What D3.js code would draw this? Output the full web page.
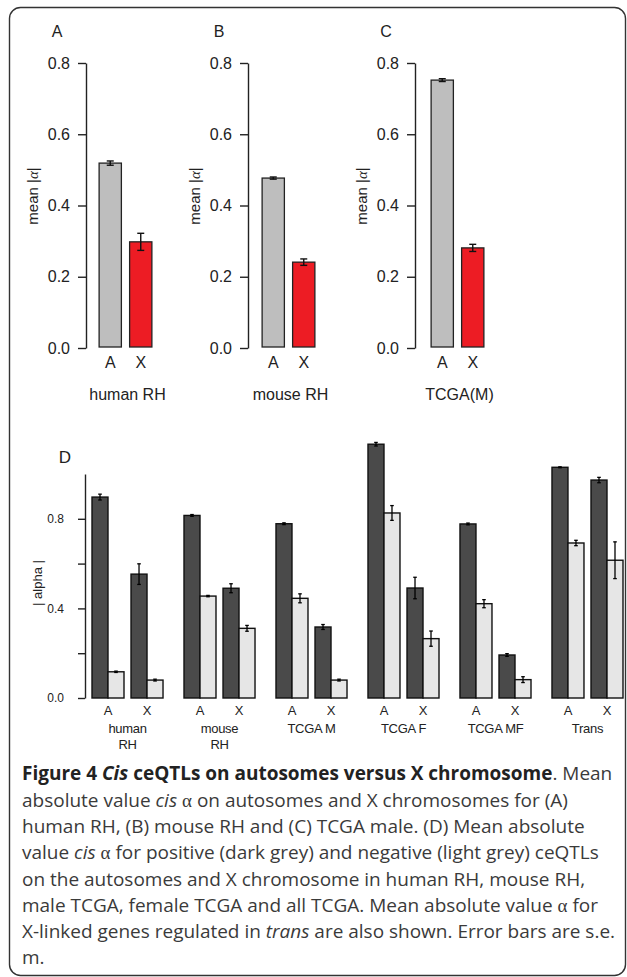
<!DOCTYPE html>
<html>
<head>
<meta charset="utf-8">
<script src="https://cdn.jsdelivr.net/npm/d3@7"></script>
<style>
  body { margin: 0; background: #fff; }
  svg { display: block; }
</style>
</head>
<body>
<script>
  // panels A-C: mean |alpha| on autosomes (A) and X chromosome (X)
  var panelLetters = ['A', 'B', 'C'];
  var panelNames = ['human RH', 'mouse RH', 'TCGA(M)'];
  var chromCats = ['A', 'X'];
  var meanAuto = [0.519, 0.477, 0.752];
  var seAuto = [0.006, 0.003, 0.004];
  var meanX = [0.298, 0.241, 0.281];
  var seX = [0.024, 0.009, 0.010];
  var topTicks = [0, 0.2, 0.4, 0.6, 0.8];

  // panel D: positive (dark) and negative (light) ceQTLs
  var groupNames = ['human\nRH', 'mouse\nRH', 'TCGA M', 'TCGA F', 'TCGA MF', 'Trans'];
  var posAuto = [0.897, 0.815, 0.778, 1.133, 0.777, 1.030];
  var posAutoSe = [0.013, 0.004, 0.004, 0.008, 0.004, 0.002];
  var negAuto = [0.117, 0.455, 0.445, 0.826, 0.421, 0.692];
  var negAutoSe = [0.003, 0.003, 0.020, 0.033, 0.018, 0.012];
  var posX = [0.553, 0.490, 0.317, 0.491, 0.192, 0.973];
  var posXSe = [0.046, 0.020, 0.011, 0.048, 0.006, 0.012];
  var negX = [0.080, 0.311, 0.080, 0.265, 0.082, 0.615];
  var negXSe = [0.004, 0.013, 0.004, 0.034, 0.013, 0.082];
  var dTicks = [0, 0.2, 0.4, 0.6, 0.8];
  var dTickLabels = [0, 0.4, 0.8];

  var FONT = '"Liberation Sans", Arial, sans-serif';
  var INK = '#222';

  var svg = d3.select('body').append('svg')
    .attr('width', 627)
    .attr('height', 977);

  svg.append('rect')
    .attr('x', 9.5).attr('y', 7.5)
    .attr('width', 616).attr('height', 968)
    .attr('rx', 11).attr('ry', 11)
    .attr('fill', 'none')
    .attr('stroke', '#333')
    .attr('stroke-width', 1.4);

  // ---------- panels A, B, C ----------
  var axisXs = [86, 248, 415];
  var barStarts = [95, 258, 427];
  var yTop = d3.scaleLinear().domain([0, 0.8]).range([348, 63]);

  panelLetters.forEach(function(letter, i) {
    var g = svg.append('g').attr('class', 'panel');
    var ax = axisXs[i];

    var yAxis = d3.axisLeft(yTop)
      .tickValues(topTicks)
      .tickFormat(d3.format('.1f'))
      .tickSize(8)
      .tickSizeOuter(0)
      .tickPadding(8);
    var axG = g.append('g').attr('transform', 'translate(' + ax + ',0)').call(yAxis);
    axG.selectAll('path, line').attr('stroke', INK).attr('stroke-width', 1.4);
    axG.selectAll('text').attr('font-family', FONT).attr('font-size', 16).attr('fill', INK);

    var x = d3.scaleBand().domain(chromCats)
      .range([barStarts[i], barStarts[i] + 61])
      .paddingInner(0.27).paddingOuter(0.135);

    var rows = [
      {cat: 'A', v: meanAuto[i], se: seAuto[i], fill: '#bebebe'},
      {cat: 'X', v: meanX[i], se: seX[i], fill: '#ed1c24'}
    ];

    g.selectAll('.bar').data(rows).enter().append('rect')
      .attr('class', 'bar')
      .attr('x', function(d) { return x(d.cat); })
      .attr('y', function(d) { return yTop(d.v); })
      .attr('width', x.bandwidth())
      .attr('height', function(d) { return yTop(0) - 1 - yTop(d.v); })
      .attr('fill', function(d) { return d.fill; })
      .attr('stroke', INK)
      .attr('stroke-width', 1.3);

    var err = g.selectAll('.err').data(rows).enter().append('g').attr('class', 'err')
      .attr('transform', function(d) { return 'translate(' + (x(d.cat) + x.bandwidth() / 2) + ',0)'; });
    err.append('line')
      .attr('y1', function(d) { return yTop(d.v - d.se); })
      .attr('y2', function(d) { return yTop(d.v + d.se); });
    err.append('line').attr('x1', -3.5).attr('x2', 3.5)
      .attr('y1', function(d) { return yTop(d.v - d.se); })
      .attr('y2', function(d) { return yTop(d.v - d.se); });
    err.append('line').attr('x1', -3.5).attr('x2', 3.5)
      .attr('y1', function(d) { return yTop(d.v + d.se); })
      .attr('y2', function(d) { return yTop(d.v + d.se); });
    err.selectAll('line').attr('stroke', '#111').attr('stroke-width', 1.4);

    g.selectAll('.cat').data(chromCats).enter().append('text')
      .attr('x', function(d) { return x(d) + x.bandwidth() / 2; })
      .attr('y', 368)
      .attr('text-anchor', 'middle')
      .attr('font-family', FONT).attr('font-size', 16).attr('fill', INK)
      .text(function(d) { return d; });

    g.append('text')
      .attr('x', x.range()[0] + (x.range()[1] - x.range()[0]) / 2 + 2)
      .attr('y', 400)
      .attr('text-anchor', 'middle')
      .attr('font-family', FONT).attr('font-size', 16).attr('fill', INK)
      .text(panelNames[i]);

    g.append('text')
      .attr('x', ax - 29).attr('y', 37)
      .attr('text-anchor', 'middle')
      .attr('font-family', FONT).attr('font-size', 16).attr('fill', INK)
      .text(letter);

    var yl = g.append('text')
      .attr('transform', 'translate(' + (ax - 48) + ',196) rotate(-90)')
      .attr('text-anchor', 'middle')
      .attr('font-family', FONT).attr('font-size', 15).attr('fill', INK);
    yl.append('tspan').text('mean |');
    yl.append('tspan').attr('font-family', '"Liberation Serif", serif').attr('font-style', 'italic').text('α');
    yl.append('tspan').text('|');
  });

  // ---------- panel D ----------
  var yD = d3.scaleLinear().domain([0, 1]).range([698, 474]);
  var xGroup = d3.scaleBand().domain(groupNames)
    .range([87.4, 627.6]).paddingInner(0.228).paddingOuter(0.05);
  var xPair = d3.scaleBand().domain(chromCats)
    .range([0, xGroup.bandwidth()]).paddingInner(0.18);
  var half = xPair.bandwidth() / 2;

  var gD = svg.append('g').attr('class', 'panel-d');

  var dAxis = d3.axisLeft(yD)
    .tickValues(dTicks)
    .tickFormat(function(d) { return dTickLabels.indexOf(d) >= 0 ? d3.format('.1f')(d) : ''; })
    .tickSize(7)
    .tickSizeOuter(0)
    .tickPadding(14);
  var dAxG = gD.append('g').attr('transform', 'translate(85,0)').call(dAxis);
  dAxG.selectAll('path, line').attr('stroke', INK).attr('stroke-width', 1.4);
  dAxG.selectAll('text').attr('font-family', FONT).attr('font-size', 12).attr('fill', INK);

  var dRows = [];
  groupNames.forEach(function(name, i) {
    dRows.push({group: name, cat: 'A', sign: 'pos', v: posAuto[i], se: posAutoSe[i]});
    dRows.push({group: name, cat: 'A', sign: 'neg', v: negAuto[i], se: negAutoSe[i]});
    dRows.push({group: name, cat: 'X', sign: 'pos', v: posX[i], se: posXSe[i]});
    dRows.push({group: name, cat: 'X', sign: 'neg', v: negX[i], se: negXSe[i]});
  });
  function barX(d) {
    return xGroup(d.group) + xPair(d.cat) + (d.sign === 'neg' ? half : 0);
  }

  gD.selectAll('.dbar').data(dRows).enter().append('rect')
    .attr('class', 'dbar')
    .attr('x', barX)
    .attr('y', function(d) { return yD(d.v); })
    .attr('width', half)
    .attr('height', function(d) { return yD(0) - yD(d.v); })
    .attr('fill', function(d) { return d.sign === 'pos' ? '#4a4a4a' : '#e6e6e6'; })
    .attr('stroke', '#111')
    .attr('stroke-width', 1.4);

  var dErr = gD.selectAll('.derr').data(dRows).enter().append('g').attr('class', 'derr')
    .attr('transform', function(d) { return 'translate(' + (barX(d) + half / 2) + ',0)'; });
  dErr.append('line')
    .attr('y1', function(d) { return yD(d.v - d.se); })
    .attr('y2', function(d) { return yD(d.v + d.se); });
  dErr.append('line').attr('x1', -1.8).attr('x2', 1.8)
    .attr('y1', function(d) { return yD(d.v - d.se); })
    .attr('y2', function(d) { return yD(d.v - d.se); });
  dErr.append('line').attr('x1', -1.8).attr('x2', 1.8)
    .attr('y1', function(d) { return yD(d.v + d.se); })
    .attr('y2', function(d) { return yD(d.v + d.se); });
  dErr.selectAll('line').attr('stroke', '#000').attr('stroke-width', 1.3);

  groupNames.forEach(function(name) {
    chromCats.forEach(function(c) {
      gD.append('text')
        .attr('x', xGroup(name) + xPair(c) + half)
        .attr('y', 715)
        .attr('text-anchor', 'middle')
        .attr('font-family', FONT).attr('font-size', 13).attr('fill', INK)
        .text(c);
    });
    var t = gD.append('text')
      .attr('x', xGroup(name) + xGroup.bandwidth() / 2)
      .attr('y', 733)
      .attr('text-anchor', 'middle')
      .attr('font-family', FONT).attr('font-size', 13).attr('fill', INK)
      .attr('letter-spacing', -0.3);
    name.split('\n').forEach(function(part, k) {
      t.append('tspan')
        .attr('x', xGroup(name) + xGroup.bandwidth() / 2)
        .attr('dy', k === 0 ? 0 : 15.5)
        .text(part);
    });
  });

  gD.append('text')
    .attr('x', 65).attr('y', 463)
    .attr('text-anchor', 'middle')
    .attr('font-family', FONT).attr('font-size', 17).attr('fill', INK)
    .text('D');

  gD.append('text')
    .attr('transform', 'translate(42,583) rotate(-90)')
    .attr('text-anchor', 'middle')
    .attr('font-family', FONT).attr('font-size', 13).attr('fill', INK)
    .text('| alpha |');

  // ---------- caption ----------
  var captionLines = [
    [['Figure 4 ', 'b'], ['Cis', 'bi'], [' ceQTLs on autosomes versus X chromosome', 'b'], ['. Mean', '']],
    [['absolute value ', ''], ['cis', 'i'], [' ', ''], ['α', 'g'], [' on autosomes and X chromosomes for (A)', '']],
    [['human RH, (B) mouse RH and (C) TCGA male. (D) Mean absolute', '']],
    [['value ', ''], ['cis', 'i'], [' ', ''], ['α', 'g'], [' for positive (dark grey) and negative (light grey) ceQTLs', '']],
    [['on the autosomes and X chromosome in human RH, mouse RH,', '']],
    [['male TCGA, female TCGA and all TCGA. Mean absolute value ', ''], ['α', 'g'], [' for', '']],
    [['X-linked genes regulated in ', ''], ['trans', 'i'], [' are also shown. Error bars are s.e.', '']],
    [['m.', '']]
  ];
  var capFont = '"Open Sans", "Noto Sans", sans-serif';

  var probe = svg.append('text').attr('font-family', capFont).attr('font-size', 18)
    .text(captionLines[2][0][0]);
  var capSize = 18 * 563 / probe.node().getComputedTextLength();
  probe.remove();

  var cap = svg.append('g').attr('class', 'caption');
  captionLines.forEach(function(segs, li) {
    var t = cap.append('text')
      .attr('x', 22)
      .attr('y', li === 0 ? 780 : 807 + (li - 1) * 26.2)
      .attr('font-family', capFont)
      .attr('font-size', capSize)
      .attr('fill', '#3a3a3a');
    segs.forEach(function(s) {
      var sp = t.append('tspan').text(s[0]);
      if (s[1].indexOf('b') >= 0) sp.attr('font-weight', 700).attr('fill', '#222');
      if (s[1].indexOf('i') >= 0) sp.attr('font-style', 'italic');
      if (s[1] === 'g') sp.attr('font-family', '"Liberation Serif", serif');
    });
  });
</script>
</body>
</html>
